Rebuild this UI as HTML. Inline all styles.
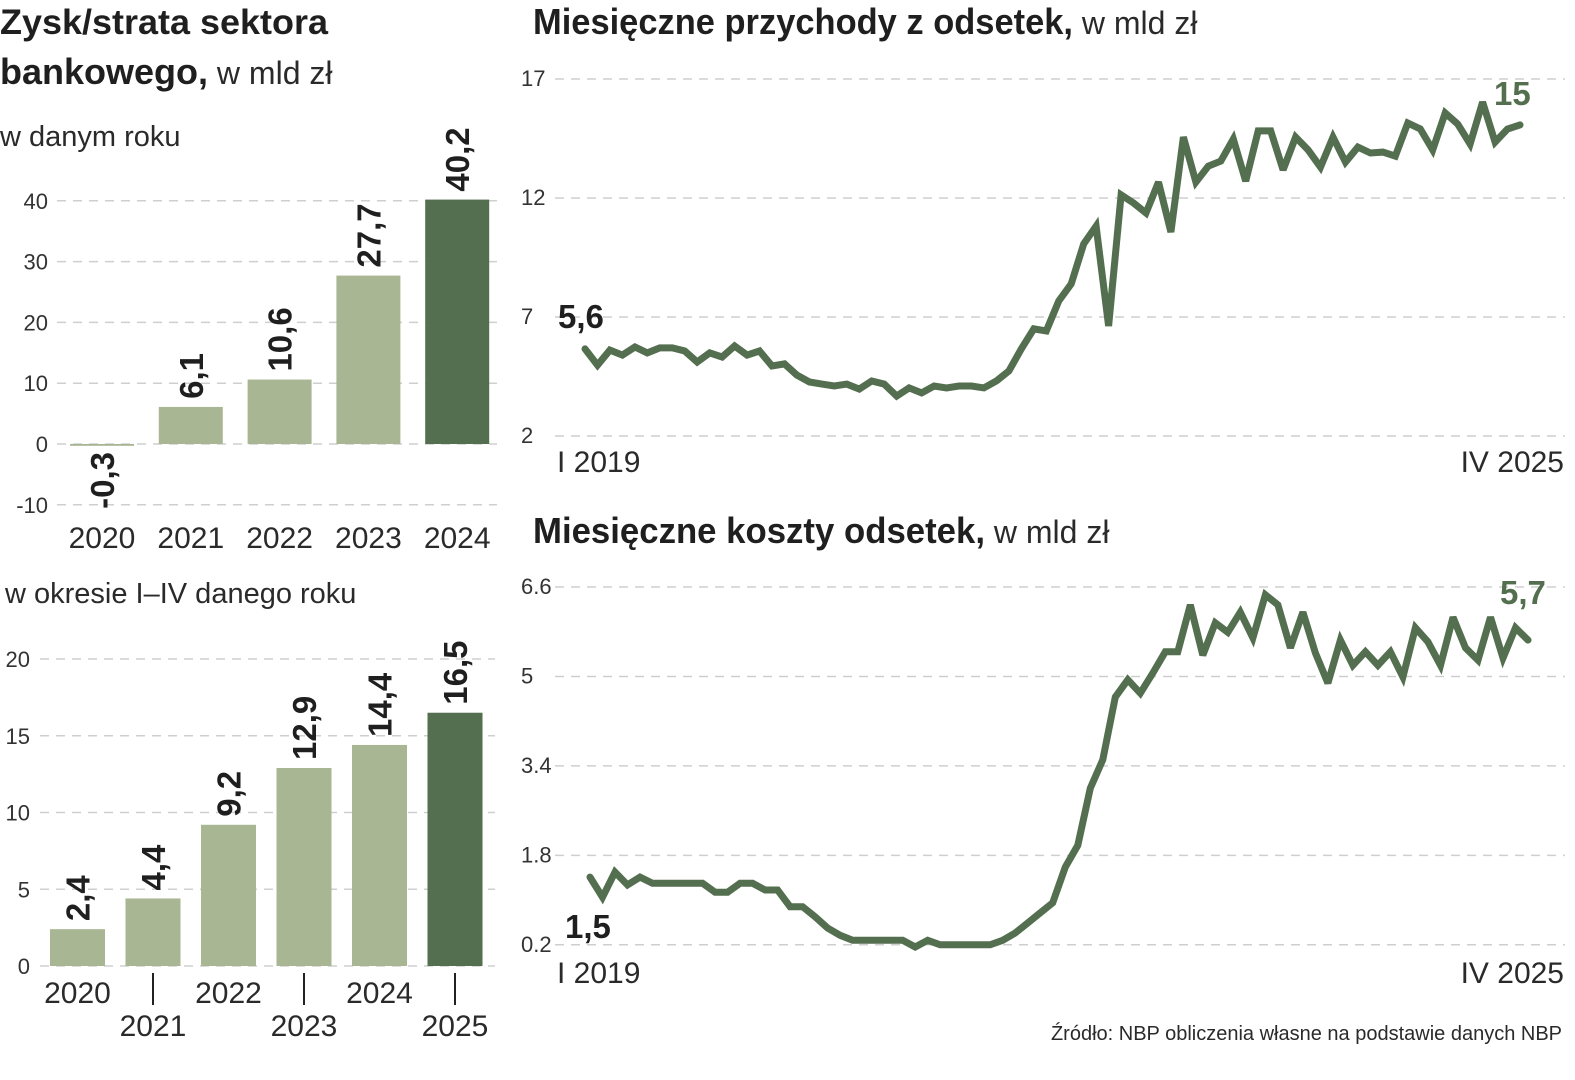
<!DOCTYPE html>
<html><head><meta charset="utf-8">
<style>
html,body{margin:0;padding:0;background:#fff;}
body{width:1575px;height:1080px;overflow:hidden;font-family:"Liberation Sans",sans-serif;}
svg{display:block;}
.t{font-family:"Liberation Sans Narrow","Liberation Sans",sans-serif;font-weight:bold;fill:#1f1f1f;}
.n{font-family:"Liberation Sans",sans-serif;fill:#2a2a2a;}
.tick{font-family:"Liberation Sans",sans-serif;fill:#333;font-size:22px;}
.grid{stroke:#cfcfcf;stroke-width:1.5;stroke-dasharray:9 7;}
.val{font-family:"Liberation Sans Narrow","Liberation Sans",sans-serif;font-weight:bold;fill:#1f1f1f;font-size:33px;}
</style></head>
<body>
<svg id="chart" width="1575" height="1080" viewBox="0 0 1575 1080">
  <text class="t" x="0" y="34" font-size="35" textLength="328" lengthAdjust="spacingAndGlyphs">Zysk/strata sektora</text>
  <text x="0" y="84" font-size="36"><tspan class="t">bankowego,</tspan><tspan class="n" font-size="32"> w mld zł</tspan></text>
  <text class="n" x="0" y="146" font-size="29">w danym roku</text>
  <text class="n" x="5" y="603" font-size="29">w okresie I–IV danego roku</text>
  <text x="533" y="34" font-size="36"><tspan class="t" textLength="540" lengthAdjust="spacingAndGlyphs">Miesięczne przychody z odsetek,</tspan><tspan class="n" font-size="32"> w mld zł</tspan></text>
  <text x="533" y="543" font-size="36"><tspan class="t" textLength="452" lengthAdjust="spacingAndGlyphs">Miesięczne koszty odsetek,</tspan><tspan class="n" font-size="32"> w mld zł</tspan></text>
  <text class="n" x="1562" y="1040" font-size="20" text-anchor="end">Źródło: NBP obliczenia własne na podstawie danych NBP</text>
  <g id="g1"></g><g id="g2"></g><g id="g3"></g><g id="g4"></g>
</svg>
<script>
const NS="http://www.w3.org/2000/svg";
function mk(parent,tag,attrs,txt){const e=document.createElementNS(NS,tag);for(const k in attrs)e.setAttribute(k,attrs[k]);if(txt!==undefined)e.textContent=txt;parent.appendChild(e);return e;}
const LIGHT="#a9b693",DARK="#546f4f";

// ---- Chart 1: annual profit ----
const annualYears=["2020","2021","2022","2023","2024"];
const annualValues=[-0.3,6.1,10.6,27.7,40.2];
const annualTicks=[-10,0,10,20,30,40];
// ---- Chart 2: Jan-Apr profit ----
const ytdYears=["2020","2021","2022","2023","2024","2025"];
const ytdValues=[2.4,4.4,9.2,12.9,14.4,16.5];
const ytdTicks=[0,5,10,15,20];
// ---- Chart 3: monthly interest income ----
const incomeValues=[5.66,4.98,5.61,5.40,5.74,5.49,5.70,5.70,5.57,5.11,5.49,5.32,5.78,5.40,5.57,4.94,5.03,4.56,4.27,4.18,4.10,4.18,3.97,4.31,4.18,3.68,4.02,3.81,4.10,4.02,4.10,4.10,4.02,4.31,4.73,5.66,6.50,6.41,7.67,8.39,10.07,10.82,6.62,12.13,11.79,11.37,12.67,10.57,14.56,12.67,13.34,13.55,14.48,12.71,14.82,14.82,13.18,14.56,14.02,13.30,14.56,13.51,14.14,13.89,13.93,13.76,15.15,14.90,14.02,15.57,15.11,14.27,16.03,14.35,14.90,15.07];
const incomeTicks=[2,7,12,17];
// ---- Chart 4: monthly interest cost ----
const costValues=[1.41,1.05,1.50,1.27,1.41,1.30,1.30,1.30,1.30,1.30,1.14,1.14,1.30,1.30,1.18,1.18,0.88,0.88,0.70,0.50,0.37,0.28,0.28,0.28,0.28,0.28,0.16,0.28,0.20,0.20,0.20,0.20,0.20,0.28,0.41,0.59,0.77,0.95,1.59,1.98,3.00,3.51,4.63,4.94,4.70,5.06,5.44,5.44,6.28,5.38,5.96,5.79,6.15,5.69,6.46,6.28,5.51,6.15,5.42,4.88,5.65,5.20,5.44,5.20,5.44,4.99,5.87,5.62,5.20,6.06,5.51,5.29,6.06,5.33,5.87,5.65];
const costTicks=["0.2","1.8","3.4","5","6.6"];
const lineLabels=["5,6","15","1,5","5,7"];

function fmt(v){return String(v).replace(".",",");}

// Chart 1
(function(){
  const g=document.getElementById("g1");
  const y=v=>444-v*6.08;
  annualTicks.forEach(t=>{
    const l=mk(g,"line",{x1:57,x2:497,y1:y(t),y2:y(t),class:"grid"});
    
    
    const tx=mk(g,"text",{x:48,y:y(t)+8,class:"tick","text-anchor":"end"},String(t));
    
    
  });
  annualYears.forEach((yr,i)=>{
    const x0=70+i*88.8,w=64,v=annualValues[i];
    const top=Math.min(y(0),y(v)),h=Math.max(Math.abs(y(v)-y(0)),1.5);
    const b=mk(g,"rect",{x:x0,y:top,width:w,height:h,fill:i===annualYears.length-1?DARK:LIGHT});
    
    
    const cx=x0+w/2+12;
    let lt;
    if(v>=0){lt=mk(g,"text",{class:"val",transform:`translate(${cx},${y(v)-8}) rotate(-90)`},fmt(v));}
    else{lt=mk(g,"text",{class:"val","text-anchor":"end",transform:`translate(${cx},${y(0)+8}) rotate(-90)`},fmt(v));}
    
    
    const xl=mk(g,"text",{x:x0+w/2,y:548,class:"n","font-size":30,"text-anchor":"middle"},yr);
    
    
  });
})();

// Chart 2
(function(){
  const g=document.getElementById("g2");
  const y=v=>966-v*15.35;
  ytdTicks.forEach(t=>{
    const l=mk(g,"line",{x1:40,x2:495,y1:y(t),y2:y(t),class:"grid"});
    
    
    const tx=mk(g,"text",{x:30,y:y(t)+8,class:"tick","text-anchor":"end"},String(t));
    
    
  });
  ytdYears.forEach((yr,i)=>{
    const x0=50+i*75.5,w=55,v=ytdValues[i];
    const b=mk(g,"rect",{x:x0,y:y(v),width:w,height:y(0)-y(v),fill:i===ytdYears.length-1?DARK:LIGHT});
    
    
    const lt=mk(g,"text",{class:"val",transform:`translate(${x0+w/2+12},${y(v)-8}) rotate(-90)`},fmt(v));
    
    
    const cx=x0+w/2;
    if(i%2===0){
      const xl=mk(g,"text",{x:cx,y:1003,class:"n","font-size":30,"text-anchor":"middle"},yr);
      
      
    }else{
      const tk=mk(g,"line",{x1:cx,x2:cx,y1:973,y2:1005,stroke:"#222","stroke-width":2});
      
      
      const xl=mk(g,"text",{x:cx,y:1036,class:"n","font-size":30,"text-anchor":"middle"},yr);
      
      
    }
  });
})();

// Line charts
function lineChart(gid,vals,ticks,yFn,x0,x1,startLbl,endLbl,startPos,endPos,xlY,prefix){
  const g=document.getElementById(gid);
  ticks.forEach(t=>{
    const yy=yFn(parseFloat(t));
    const l=mk(g,"line",{x1:555,x2:1565,y1:yy,y2:yy,class:"grid"});
    
    
    const tx=mk(g,"text",{x:521,y:yy+7,class:"tick"},String(t));
    
    
  });
  const step=(x1-x0)/(vals.length-1);
  const pts=vals.map((v,i)=>(x0+i*step).toFixed(1)+","+yFn(v).toFixed(1)).join(" ");
  const pl=mk(g,"polyline",{points:pts,fill:"none",stroke:DARK,"stroke-width":7,"stroke-linejoin":"miter","stroke-miterlimit":3,"stroke-linecap":"round"});
  
  
  const s=mk(g,"text",{x:startPos[0],y:startPos[1],class:"val","font-size":36},startLbl);
  
  
  const e=mk(g,"text",{x:endPos[0],y:endPos[1],class:"val","font-size":44,style:"fill:"+DARK},endLbl);
  
  
  const a=mk(g,"text",{x:557,y:xlY,class:"n","font-size":30},"I 2019");
  
  
  const b=mk(g,"text",{x:1564,y:xlY,class:"n","font-size":30,"text-anchor":"end"},"IV 2025");
  
  
}
lineChart("g3",incomeValues,incomeTicks,v=>79+(17-v)*23.8,585,1520,lineLabels[0],lineLabels[1],[558,328],[1494,105],472,"income");
lineChart("g4",costValues,costTicks,v=>587+(6.6-v)*55.9,590,1528,lineLabels[2],lineLabels[3],[565,938],[1500,604],983,"cost");
</script>
</body></html>
